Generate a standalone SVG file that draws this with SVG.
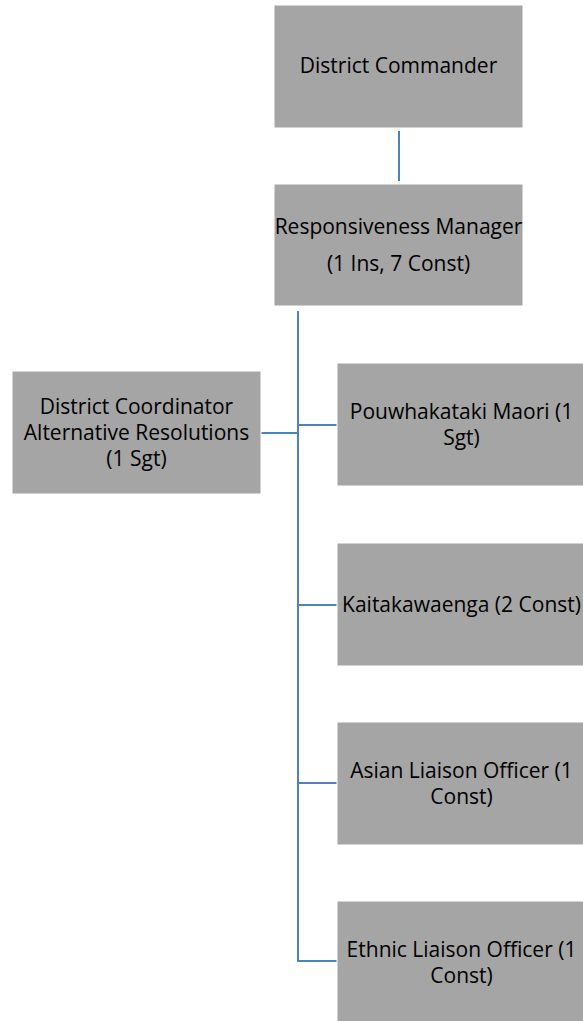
<svg xmlns="http://www.w3.org/2000/svg" width="583" height="1021" viewBox="0 0 583 1021">
<style>
.box{fill:#A5A5A5;stroke:#FFFFFF;stroke-width:1}
.t{font-family:"Open Sans","Liberation Sans",sans-serif;font-size:21px;fill:#000;text-anchor:middle}
.ln{stroke:#4F81BD;stroke-width:2;fill:none}
</style>
<rect width="583" height="1021" fill="#FFFFFF"/>
<g id="connectors">
<line class="ln" x1="399" y1="131" x2="399" y2="181"/>
<polyline class="ln" points="298,311 298,961 337,961"/>
<line class="ln" x1="261" y1="433" x2="298" y2="433"/>
<line class="ln" x1="298" y1="425" x2="337" y2="425"/>
<line class="ln" x1="298" y1="605" x2="337" y2="605"/>
<line class="ln" x1="298" y1="783" x2="337" y2="783"/>
</g>
<g id="district-commander">
<rect class="box" x="274" y="5" width="249" height="123"/>
<text class="t" x="398.5" y="73">District Commander</text>
</g>
<g id="responsiveness-manager">
<rect class="box" x="274" y="184" width="249" height="122"/>
<text class="t" x="398.5" y="234">Responsiveness Manager</text>
<text class="t" x="398.5" y="271">(1 Ins, 7 Const)</text>
</g>
<g id="district-coordinator">
<rect class="box" x="12" y="371" width="249" height="123"/>
<text class="t" x="136.5" y="414">District Coordinator</text>
<text class="t" x="136.5" y="440">Alternative Resolutions</text>
<text class="t" x="136.5" y="466">(1 Sgt)</text>
</g>
<g id="pouwhakataki">
<rect class="box" x="337" y="363" width="249" height="123"/>
<text class="t" x="461.5" y="419">Pouwhakataki Maori (1</text>
<text class="t" x="461.5" y="445">Sgt)</text>
</g>
<g id="kaitakawaenga">
<rect class="box" x="337" y="543" width="249" height="123"/>
<text class="t" x="461.5" y="612">Kaitakawaenga (2 Const)</text>
</g>
<g id="asian-liaison">
<rect class="box" x="337" y="722" width="249" height="123"/>
<text class="t" x="461.5" y="778">Asian Liaison Officer (1</text>
<text class="t" x="461.5" y="804">Const)</text>
</g>
<g id="ethnic-liaison">
<rect class="box" x="337" y="901" width="249" height="123"/>
<text class="t" x="461.5" y="957">Ethnic Liaison Officer (1</text>
<text class="t" x="461.5" y="983">Const)</text>
</g>
</svg>
